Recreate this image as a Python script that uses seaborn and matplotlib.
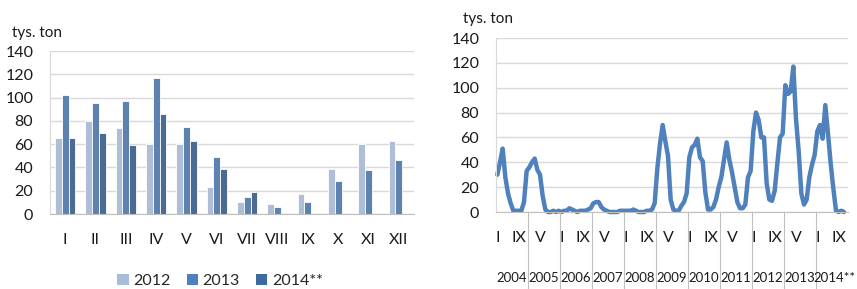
import numpy as np
import pandas as pd
import matplotlib
matplotlib.use("Agg")
import matplotlib.pyplot as plt
import matplotlib.transforms as mtrans
from matplotlib.patches import Patch
import seaborn as sns

# ---------------- data ----------------
months_roman = ["I", "II", "III", "IV", "V", "VI", "VII", "VIII", "IX", "X", "XI", "XII"]
bar_years = ["2012", "2013", "2014**"]
vals_2012 = [65, 80, 74, 60, 60, 23, 10, 9, 17, 39, 60, 63]
vals_2013 = [102, 95, 97, 117, 75, 49, 15, 6, 10, 28, 38, 46]
vals_2014 = [65, 70, 59, 86, 63, 39, 19, 1, 0, 1]

line_years = ["2004", "2005", "2006", "2007", "2008", "2009", "2010", "2011", "2012", "2013", "2014**"]
m2004 = [30, 40, 51, 28, 15, 7, 1, 1, 1, 1, 8, 33]
m2005 = [36, 40, 43, 34, 30, 13, 2, 0, 0, 1, 0, 1]
m2006 = [0, 1, 1, 3, 2, 1, 0, 1, 1, 1, 2, 3]
m2007 = [7, 8, 8, 4, 2, 1, 0, 0, 0, 0, 1, 1]
m2008 = [1, 1, 1, 2, 1, 0, 0, 0, 1, 1, 2, 7]
m2009 = [35, 55, 70, 57, 45, 10, 2, 1, 1, 5, 8, 15]
m2010 = [44, 52, 54, 59, 44, 41, 16, 2, 2, 4, 10, 20]
m2011 = [28, 42, 56, 42, 32, 20, 8, 3, 3, 6, 28, 33]
m2012 = vals_2012
m2013 = vals_2013
m2014 = vals_2014 + [0]
tick_cycle = ["I", "IX", "V"]

# ---------------- style ----------------
sns.set_style("white")
plt.rcParams["font.family"] = ["Lato", "DejaVu Sans"]
plt.rcParams["font.size"] = 11

c2012 = "#A9BCDC"
c2013 = "#4F81BD"
c2014 = "#3F6A9E"
grid_c = "#D9D9D9"
axis_c = "#BFBFBF"
txt_c = "#1a1a1a"

fig = plt.figure(figsize=(8.57, 2.89), dpi=100)

# ---------------- left: bars ----------------
ax1 = fig.add_axes([50 / 857, 1 - 214 / 289, (414 - 50) / 857, (214 - 51) / 289])
rows = []
for yr, vals in zip(bar_years, [vals_2012, vals_2013, vals_2014]):
    for m, v in zip(months_roman, vals):
        rows.append({"month": m, "year": yr, "value": v})
dfb = pd.DataFrame(rows)
sns.barplot(data=dfb, x="month", y="value", hue="year", order=months_roman,
            hue_order=bar_years, palette=[c2012, c2013, c2014], width=0.66,
            edgecolor="white", linewidth=0.6, ax=ax1, legend=False, errorbar=None)
ax1.set_ylim(0, 140)
ax1.set_xlim(-0.5, 11.5)
ax1.set_yticks(np.arange(0, 141, 20))
ax1.yaxis.grid(True, color=grid_c, lw=1)
ax1.set_axisbelow(True)
ax1.set_xlabel("")
ax1.set_ylabel("")
for s in ["top", "right"]:
    ax1.spines[s].set_visible(False)
ax1.spines["left"].set_color(grid_c)
ax1.spines["bottom"].set_color(axis_c)
ax1.tick_params(axis="y", length=0, pad=12, labelsize=11.5, labelcolor=txt_c)
ax1.tick_params(axis="x", length=0, pad=14, labelsize=11.5, labelcolor=txt_c)
fig.text(12 / 857, 1 - 33 / 289, "tys. ton", fontsize=11, color=txt_c, va="center", ha="left")

handles = [Patch(facecolor=c, edgecolor="none") for c in [c2012, c2013, c2014]]
fig.legend(handles, bar_years, loc="center", bbox_to_anchor=(220 / 857, 1 - 281 / 289),
           ncol=3, frameon=False, handlelength=0.7, handleheight=0.7, handletextpad=0.3,
           columnspacing=1.0, fontsize=11.5)

# ---------------- right: line ----------------
ax2 = fig.add_axes([496 / 857, 1 - 212 / 289, (848 - 496) / 857, (212 - 38) / 289])
series = m2004 + m2005 + m2006 + m2007 + m2008 + m2009 + m2010 + m2011 + m2012 + m2013 + m2014
dfl = pd.DataFrame({"idx": np.arange(len(series)), "value": series})
sns.lineplot(data=dfl, x="idx", y="value", color=c2013, lw=3.2, ax=ax2)
for ln in ax2.lines:
    ln.set_clip_on(False)
    ln.set_solid_joinstyle("round")
n_months = 12 * len(line_years)
ax2.set_xlim(-0.5, n_months - 0.5)
ax2.set_ylim(0, 140)
ax2.set_yticks(np.arange(0, 141, 20))
ax2.yaxis.grid(True, color=grid_c, lw=1)
ax2.set_axisbelow(True)
ax2.set_xlabel("")
ax2.set_ylabel("")
for s in ["top", "right"]:
    ax2.spines[s].set_visible(False)
ax2.spines["left"].set_color(grid_c)
ax2.spines["bottom"].set_color(axis_c)
ax2.tick_params(axis="y", length=0, pad=12, labelsize=11.5, labelcolor=txt_c)

major_pos = np.arange(0, n_months, 8)
ax2.set_xticks(major_pos)
ax2.set_xticklabels([tick_cycle[i % 3] for i in range(len(major_pos))])
ax2.set_xticks(np.arange(-0.5, n_months, 1), minor=True)
ax2.tick_params(axis="x", which="major", length=0, pad=14, labelsize=11.5, labelcolor=txt_c)
ax2.tick_params(axis="x", which="minor", length=28, width=0.5, color=axis_c, direction="out")

trans = mtrans.blended_transform_factory(ax2.transData, ax2.transAxes)
for j in range(1, len(line_years)):
    ax2.plot([12 * j - 0.5, 12 * j - 0.5], [0, -0.44], transform=trans, color=axis_c,
             lw=0.8, clip_on=False)
for j, yr in enumerate(line_years):
    if j == len(line_years) - 1:
        fig.text(855 / 857, 1 - 278 / 289, yr, ha="right", va="center",
                 fontsize=9.5, color=txt_c)
    else:
        ax2.text(12 * j + 5.5, -0.38, yr, transform=trans, ha="center", va="center",
                 fontsize=9.5, color=txt_c)
fig.text(463 / 857, 1 - 19 / 289, "tys. ton", fontsize=11, color=txt_c, va="center", ha="left")

fig.savefig("out.png", dpi=100)
